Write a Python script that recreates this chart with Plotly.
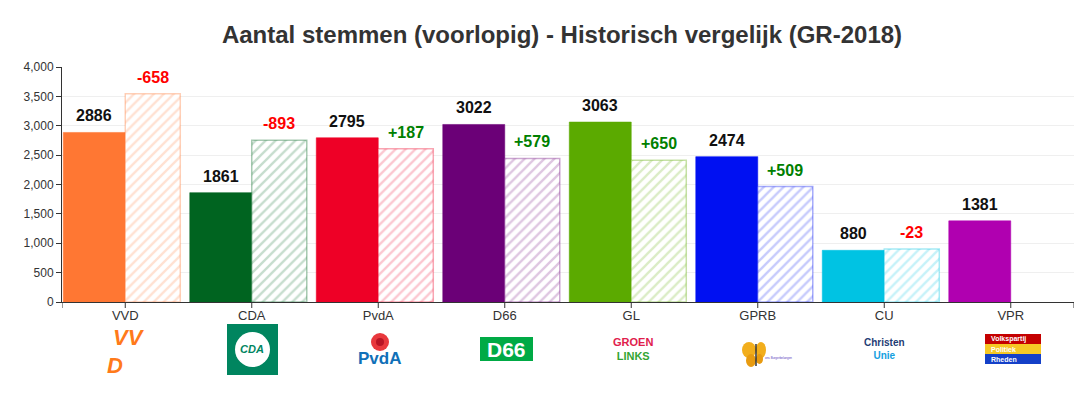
import plotly.graph_objects as go

# ---------------- data ----------------
parties = ["VVD", "CDA", "PvdA", "D66", "GL", "GPRB", "CU", "VPR"]
votes_now = [2886, 1861, 2795, 3022, 3063, 2474, 880, 1381]
votes_2018 = [3544, 2754, 2608, 2443, 2413, 1965, 903, None]
party_colors = ["#FF7733", "#006420", "#EE0026", "#6B0077", "#5BAA00",
                "#0010F2", "#00C3E3", "#B000B0"]
y_ticks = [0, 500, 1000, 1500, 2000, 2500, 3000, 3500, 4000]
title_text = "Aantal stemmen (voorlopig) - Historisch vergelijk (GR-2018)"

# ---------------- geometry helpers ----------------
# the page body has an 8px margin, so the figure starts at (8, 8) in the window
OFF = 8
WIN_W, WIN_H = 1087, 396
W, H = WIN_W - OFF, WIN_H - OFF
PL, PR, PT, PB = 62, 1074, 67, 302          # plot area in window pixels
ML, MR, MT, MB = PL - OFF, WIN_W - PR, PT - OFF, WIN_H - PB
PW, PH = PR - PL, PB - PT


def px(x):
    return (x - PL) / PW


def py(y):
    return (PB - y) / PH


def rgba(h, a):
    h = h.lstrip("#")
    r, g, b = int(h[0:2], 16), int(h[2:4], 16), int(h[4:6], 16)
    return f"rgba({r},{g},{b},{a})"


FONT = "Arial, Liberation Sans, sans-serif"

fig = go.Figure()

fig.add_bar(
    x=parties, y=votes_now, offset=-0.49, width=0.49,
    marker=dict(color=party_colors,
                line=dict(color=[rgba(c, 0.55) for c in party_colors], width=1)),
    hoverinfo="x+y",
)
fig.add_bar(
    x=parties, y=votes_2018, offset=0.0, width=0.435,
    marker=dict(color="white",
                line=dict(color=[rgba(c, 0.35) for c in party_colors], width=1.5),
                pattern=dict(shape="/", fgcolor=[rgba(c, 0.45) for c in party_colors],
                             bgcolor="white", size=7, solidity=0.33)),
    hoverinfo="x+y",
)

annotations = []
for i, (v, old) in enumerate(zip(votes_now, votes_2018)):
    annotations.append(dict(
        x=i - 0.245, y=v, xref="x", yref="y", text=f"<b>{v}</b>",
        showarrow=False, yanchor="bottom", yshift=6,
        font=dict(family=FONT, size=16, color="#111111")))
    if old is not None:
        d = v - old
        annotations.append(dict(
            x=i + 0.2175, y=old, xref="x", yref="y",
            text=f"<b>{'+' if d > 0 else ''}{d}</b>",
            showarrow=False, yanchor="bottom", yshift=6,
            font=dict(family=FONT, size=16,
                      color="#008000" if d > 0 else "#FF0000")))

shapes = []
# x-axis tick marks: category centres plus both axis ends
tick_pos = [i for i in range(len(parties))] + [-0.5, len(parties) - 0.5]
for xe in tick_pos:
    shapes.append(dict(type="line", xref="x", yref="paper", x0=xe, x1=xe,
                       y0=0, y1=py(PB + 6), line=dict(color="#333333", width=1)))


def ann(x, y, text, size, color, **kw):
    d = dict(x=px(x), y=py(y), xref="paper", yref="paper", text=text,
             showarrow=False, xanchor="center", yanchor="middle",
             font=dict(family=FONT, size=size, color=color))
    d.update(kw)
    annotations.append(d)


def rect(x0, y0, x1, y1, color, kind="rect", line=None):
    shapes.append(dict(type=kind, xref="paper", yref="paper",
                       x0=px(x0), x1=px(x1), y0=py(y1), y1=py(y0),
                       fillcolor=color, line=dict(width=0) if line is None else line,
                       layer="above"))


# ---- logos (approximated) ----
# VVD
ann(129, 337, "<b><i>VV</i></b>", 22, "#FF7A1A", borderpad=0)
ann(115, 365, "<b><i>D</i></b>", 22, "#FF7A1A", borderpad=0)
# CDA
rect(227, 324, 278, 375, "#00855F")
rect(235, 332, 270, 367, "white", kind="circle")
ann(252, 349, "<b><i>CDA</i></b>", 11, "#00855F")
# PvdA
rect(371, 333, 389, 351, "#E8383D", kind="circle")
rect(376, 338, 384, 346, "#B81525", kind="circle")
ann(379, 358, "<b>PvdA</b>", 17, "#1070B8")
# D66
rect(480, 337, 533, 361, "#00AA45")
ann(506, 349, "<b>D66</b>", 21, "white")
# GroenLinks
ann(633, 349, "<b><span style='color:#E0204C'>GROEN</span><br>"
              "<span style='color:#33A532'>LINKS</span></b>", 11, "#33A532")
# GPRB butterfly
rect(742, 342, 756, 358, "#F2AE1C", kind="circle")
rect(756, 342, 766, 358, "#F2AE1C", kind="circle")
rect(746, 354, 756, 367, "#E89B10", kind="circle")
rect(756, 354, 763, 364, "#E89B10", kind="circle")
shapes.append(dict(type="line", xref="paper", yref="paper", x0=px(756), x1=px(756),
                   y0=py(366), y1=py(344), line=dict(color="#333", width=1.5), layer="above"))
ann(778, 358, "ons Burgerbelangen", 3, "#5A40C0")
# ChristenUnie
ann(884, 349, "<b><span style='color:#1F3C74'>Christen</span><br>"
              "<span style='color:#14A0E0'>Unie</span></b>", 10, "#14A0E0")
# VPR
rect(985, 334, 1041, 344, "#C40000")
rect(985, 344, 1041, 354, "#F6C825")
rect(985, 354, 1041, 364, "#1440C8")
ann(989, 339, "<b>Volkspartij</b>", 7, "white", xanchor="left")
ann(989, 349, "<b>Politiek</b>", 7, "white", xanchor="left")
ann(989, 359, "<b>Rheden</b>", 7, "white", xanchor="left")

fig.update_layout(
    width=W, height=H,
    margin=dict(l=ML, r=MR, t=MT, b=MB, pad=0),
    paper_bgcolor="white", plot_bgcolor="white",
    barmode="overlay", showlegend=False,
    title=dict(text=f"<b>{title_text}</b>", x=(562 - OFF) / W, xanchor="center",
               y=1 - (35 - OFF) / H, yanchor="middle", yref="container",
               font=dict(family=FONT, size=24, color="#333333")),
    xaxis=dict(type="category", range=[-0.5, 7.5], showline=True, linecolor="#333333",
               linewidth=1, ticks="", ticklabelstandoff=1,
               showgrid=False, tickfont=dict(family=FONT, size=13, color="#333333")),
    yaxis=dict(range=[0, 4000], tickvals=y_ticks, tickformat=",", showline=True,
               linecolor="#333333", linewidth=1, ticks="outside", ticklen=5,
               tickcolor="#333333", gridcolor="#EFEFEF", zeroline=False,
               tickfont=dict(family=FONT, size=12, color="#333333")),
    annotations=annotations, shapes=shapes,
)

fig.write_html("out.html")
